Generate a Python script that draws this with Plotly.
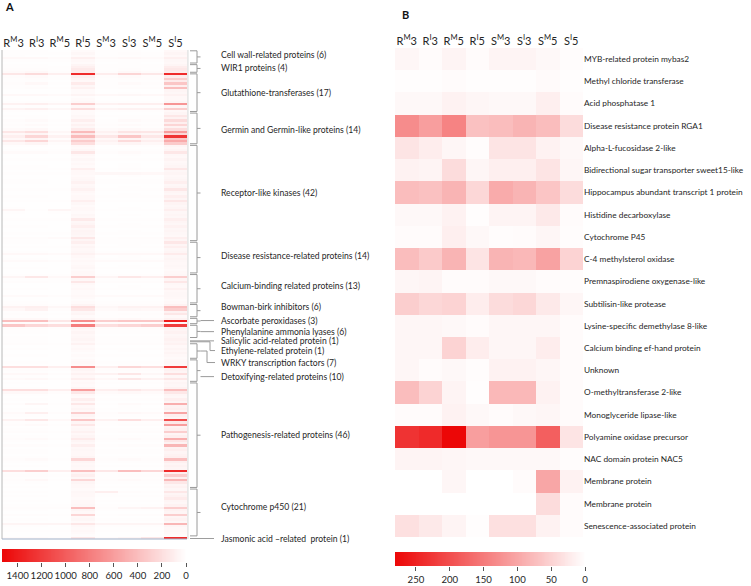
import numpy as np
import plotly.graph_objects as go

W, H = 751, 586

samples = ["R<sup>M</sup>3", "R<sup>I</sup>3", "R<sup>M</sup>5", "R<sup>I</sup>5",
           "S<sup>M</sup>3", "S<sup>I</sup>3", "S<sup>M</sup>5", "S<sup>I</sup>5"]

# ---------------- Panel A data (rows per functional group; columns = samples) ----------------
cell_wall = [[10,10,5,30,10,10,5,40],[15,10,10,50,15,20,10,60],[10,5,5,30,10,10,10,40],
             [40,40,25,90,30,40,30,90],[10,10,10,40,10,15,10,50],[5,5,5,30,5,10,5,40]]
wir1 = [[10,10,5,60,10,10,10,60],[10,10,10,90,10,15,10,110],[20,20,10,130,15,20,15,140],
        [30,40,20,120,20,40,25,120]]
glutathione = [[150,220,100,1300,110,260,150,1300],[20,30,10,100,20,30,20,120],[10,20,10,60,10,20,20,300],
               [10,10,5,40,10,10,10,120],[20,40,10,120,10,30,20,350],[10,10,5,50,10,10,10,100],
               [15,20,10,80,10,20,20,400],[5,5,5,30,5,5,5,60],[5,5,5,30,5,10,5,50],
               [40,40,30,70,40,50,40,80],[5,5,5,20,5,5,5,40],[5,5,5,30,5,5,5,40],
               [10,10,10,40,10,10,10,60],[80,100,60,300,80,100,100,650],[10,10,5,40,10,10,10,60],
               [70,90,50,200,60,80,80,300],[10,10,5,30,10,10,10,40]]
germin = [[5,5,5,30,5,5,5,60],[10,10,5,50,10,10,10,150],[5,10,5,40,5,10,10,80],
          [20,30,10,100,10,30,20,220],[10,10,5,40,10,10,10,100],[20,30,10,80,20,30,20,260],
          [10,10,5,50,10,10,10,80],[30,40,10,120,30,40,30,200],[150,200,50,420,80,160,150,600],
          [40,60,20,150,40,60,50,250],[100,250,80,420,150,350,150,1250],[40,60,20,150,40,60,50,350],
          [150,250,60,320,80,220,100,520],[40,60,20,200,40,60,40,320]]
receptor = [[10,10,5,40,5,10,10,60],[5,5,5,30,5,5,5,40],[10,10,10,50,10,10,10,60],
            [30,30,20,150,20,30,20,150],[5,5,5,40,5,10,5,50],[5,5,5,30,5,5,5,40],
            [10,10,10,50,10,10,10,70],[5,5,5,30,5,5,5,40],[5,5,5,40,5,10,5,50],
            [10,10,5,30,5,10,5,60],[15,15,10,100,10,20,15,150],[5,5,5,40,5,5,5,50],
            [10,10,10,40,50,50,40,60],[5,5,5,30,5,10,5,40],[5,5,5,40,5,5,5,50],
            [10,10,5,50,10,10,10,60],[10,10,5,80,10,10,10,100],[5,5,5,40,5,5,5,50],
            [5,5,5,50,5,10,5,60],[10,10,10,80,10,15,10,150],[5,5,5,40,5,5,5,60],
            [5,5,5,30,5,10,5,50],[10,10,5,40,10,10,10,100],[5,5,5,40,5,5,5,60],
            [15,10,10,100,10,15,10,150],[5,5,5,50,5,5,5,70],[5,5,5,30,5,5,5,50],
            [10,5,5,40,5,10,5,60],[60,10,60,40,10,10,10,100],[10,5,10,30,5,5,5,50],
            [5,5,5,50,5,10,5,60],[5,5,5,40,5,5,5,50],[10,10,10,130,10,10,10,100],
            [5,5,5,50,5,5,5,60],[5,5,5,60,5,10,5,50],[10,10,5,100,10,10,10,80],
            [5,5,5,50,5,5,5,50],[5,5,5,70,5,10,5,60],[10,10,10,60,10,10,10,50],
            [5,5,5,50,5,5,5,40],[20,20,30,150,10,20,20,100],[10,10,5,60,10,10,10,60]]
disease = [[10,10,5,100,10,10,10,150],[5,5,5,40,5,10,5,60],[10,10,10,60,10,10,10,100],
           [5,5,5,40,5,5,5,50],[10,10,5,50,10,10,10,60],[40,40,30,80,40,40,40,120],
           [5,5,5,40,5,10,5,50],[10,10,5,30,10,10,10,60],[30,30,20,40,30,30,30,50],
           [5,5,5,30,5,5,5,40],[5,5,5,40,5,10,5,50],[10,10,5,50,10,10,10,40],
           [5,5,5,30,5,5,5,30],[5,5,5,40,5,5,5,40]]
calcium = [[10,10,10,40,10,10,10,50],[60,150,40,300,60,150,100,300],[10,10,10,50,10,10,10,60],
           [20,20,10,150,20,20,20,150],[5,5,5,40,5,5,5,50],[5,5,5,30,5,10,5,40],
           [10,10,5,40,10,10,10,80],[5,5,5,30,5,5,5,40],[5,5,5,30,5,5,5,50],
           [30,30,20,40,30,30,30,50],[5,5,5,30,5,5,5,40],[5,5,5,20,5,5,5,30],
           [10,10,5,30,10,10,10,40]]
bowman = [[20,20,10,60,20,20,20,80],[80,100,50,200,50,80,80,400],[40,80,20,150,30,50,40,300],
          [10,10,5,50,10,10,10,80],[20,20,10,60,10,20,20,150],[10,10,5,30,10,10,10,40]]
ascorbate = [[40,40,20,60,30,40,30,80],[400,400,150,700,300,350,350,1400],[20,20,10,40,20,20,20,60]]
phenylalanine = [[350,250,200,800,200,250,300,1200],[20,20,10,60,20,20,20,80],[10,10,5,40,10,10,10,60],
                 [10,10,5,60,10,10,10,80],[5,5,5,40,5,5,5,50],[10,10,5,50,10,10,10,60]]
salicylic = [[10,10,5,60,10,10,10,80]]
ethylene = [[10,10,5,40,10,10,10,60]]
wrky = [[20,20,10,80,20,20,20,80],[5,5,5,30,5,5,5,40],[10,10,5,40,10,10,10,60],
        [5,5,5,30,5,10,5,40],[5,5,5,20,5,5,5,60],[10,10,5,30,10,10,10,40],[5,5,5,20,5,5,5,30]]
detox = [[5,5,5,30,5,5,5,40],[10,10,5,40,10,10,10,50],[5,5,5,30,5,10,5,40],
         [200,200,100,700,100,250,200,1200],[20,20,10,60,20,20,20,80],[10,10,5,40,10,10,10,60],
         [40,40,20,80,80,150,50,200],[10,10,5,40,10,10,10,50],[30,40,20,100,40,150,80,150],
         [5,5,5,30,5,5,5,40]]
pathogenesis = [[10,10,5,40,10,10,10,60],[5,5,5,30,5,5,5,50],[10,10,5,60,10,10,10,80],
                [200,200,100,600,100,150,100,400],[40,40,20,150,30,40,30,150],[10,10,5,40,10,10,10,60],
                [5,5,5,30,5,5,5,50],[10,10,5,100,10,10,10,100],[5,5,5,40,5,5,5,60],
                [20,60,10,150,10,30,20,500],[5,5,5,40,5,10,5,80],[10,10,5,60,10,10,10,100],
                [5,5,5,40,5,5,5,60],[30,100,20,300,20,40,30,550],[10,10,5,60,10,10,10,100],
                [5,5,5,40,5,5,5,60],[80,150,40,350,80,200,100,1100],[10,10,5,60,10,10,10,150],
                [20,30,10,150,10,20,20,600],[5,5,5,40,5,5,5,80],[10,10,5,50,10,10,10,100],
                [20,20,10,80,10,20,20,300],[5,5,5,40,5,5,5,60],[10,10,5,60,10,10,10,100],
                [20,30,10,120,20,30,20,500],[10,10,5,60,10,10,10,150],[5,5,5,40,5,5,5,80],
                [20,20,10,100,10,20,20,450],[5,5,5,40,5,5,5,80],[10,10,5,50,10,10,10,100],
                [10,10,5,40,10,10,10,60],[5,5,5,40,5,5,5,80],[10,10,5,60,10,10,10,100],
                [20,30,10,250,20,30,20,400],[10,10,5,60,10,10,10,100],[5,5,5,40,5,5,5,60],
                [10,10,5,50,10,10,10,80],[5,5,5,40,5,5,5,60],[200,300,100,400,150,400,250,1300],
                [10,10,5,60,10,10,10,100],[20,20,10,100,10,20,20,300],[10,10,5,50,10,10,10,100],
                [20,40,10,250,20,30,20,450],[10,10,5,60,10,10,10,150],[5,5,5,40,5,5,5,60],
                [10,10,5,40,10,10,10,80]]
cytochrome = [[5,5,5,30,5,5,5,50],[10,10,5,50,100,20,10,150],[5,5,5,40,10,5,5,60],
              [10,10,5,40,10,10,10,80],[5,5,5,30,5,5,5,120],[10,10,5,40,10,10,10,60],
              [5,5,5,40,5,5,5,50],[10,10,10,50,10,10,10,80],[20,20,20,400,20,60,80,300],
              [10,10,5,60,10,10,10,80],[5,5,5,40,5,5,5,60],[20,20,10,250,10,20,20,300],
              [5,5,5,40,5,5,5,60],[10,10,5,50,10,10,10,80],[5,5,5,30,5,5,5,50],
              [60,60,60,150,60,60,60,450],[10,10,5,40,10,10,10,60],[5,5,5,30,5,5,5,40],
              [10,10,10,40,10,10,10,50],[5,5,5,30,5,5,5,40],[5,5,5,20,5,5,5,30]]
jasmonic = [[30,30,20,150,30,60,150,1300]]

group_names = ["Cell wall-related proteins (6)", "WIR1 proteins (4)", "Glutathione-transferases (17)",
               "Germin and Germin-like proteins (14)", "Receptor-like kinases (42)",
               "Disease resistance-related proteins (14)", "Calcium-binding related proteins (13)",
               "Bowman-birk inhibitors (6)", "Ascorbate peroxidases (3)", "Phenylalanine ammonia lyases (6)",
               "Salicylic acid-related protein (1)", "Ethylene-related protein (1)",
               "WRKY transcription factors (7)", "Detoxifying-related proteins (10)",
               "Pathogenesis-related proteins (46)", "Cytochrome p450 (21)",
               "Jasmonic acid \u2013related  protein (1)"]
group_rows = [cell_wall, wir1, glutathione, germin, receptor, disease, calcium, bowman, ascorbate,
              phenylalanine, salicylic, ethylene, wrky, detox, pathogenesis, cytochrome, jasmonic]

# ---------------- Panel B data ----------------
genes_b = ["MYB-related protein mybas2", "Methyl chloride transferase", "Acid phosphatase 1",
           "Disease resistance protein RGA1", "Alpha-L-fucosidase 2-like",
           "Bidirectional sugar transporter sweet15-like", "Hippocampus abundant transcript 1 protein",
           "Histidine decarboxylase", "Cytochrome P45", "C-4 methylsterol oxidase",
           "Premnaspirodiene oxygenase-like", "Subtilisin-like protease", "Lysine-specific demethylase 8-like",
           "Calcium binding ef-hand protein", "Unknown", "O-methyltransferase 2-like",
           "Monoglyceride lipase-like", "Polyamine oxidase precursor", "NAC domain protein NAC5",
           "Membrane protein", "Membrane protein", "Senescence-associated protein"]
values_b = [[10,5,12,5,12,12,8,3],
            [2,2,5,2,2,2,6,2],
            [8,8,15,10,8,8,18,5],
            [130,110,140,70,75,85,75,40],
            [30,20,10,3,30,30,15,8],
            [15,12,40,10,18,18,30,10],
            [75,70,85,45,95,85,65,40],
            [8,8,15,2,12,12,25,5],
            [5,5,18,8,3,5,10,3],
            [75,60,85,30,85,80,105,50],
            [10,12,5,5,8,8,5,3],
            [55,45,50,20,40,45,25,10],
            [10,10,8,5,10,10,10,5],
            [10,10,50,20,10,10,20,5],
            [10,5,8,3,15,15,10,5],
            [75,50,12,2,80,80,15,5],
            [5,5,15,8,5,8,10,5],
            [230,240,280,110,120,120,180,30],
            [12,12,10,8,8,8,8,3],
            [0,0,10,0,0,5,100,15],
            [0,0,0,0,0,0,40,5],
            [35,25,12,2,35,35,15,5]]

ticks_a = [1400, 1200, 1000, 800, 600, 400, 200, 0]
ticks_b = [250, 200, 150, 100, 50, 0]
zmax_a, zmax_b = 1530, 281

# ---------------- figure ----------------
FONT = "Lato, 'Open Sans', sans-serif"
TXT = "#262626"
scale = [[0, "rgb(255,255,255)"], [1, "rgb(236,6,6)"]]

z_a = [row for grp in group_rows for row in grp]
n_a = len(z_a)
n_b = len(genes_b)

def px(x):
    return x / W

def py(y):
    return 1 - y / H

fig = go.Figure()
fig.add_trace(go.Heatmap(z=z_a, x=list(range(8)), y=list(range(n_a)), colorscale=scale,
                         zmin=0, zmax=zmax_a, showscale=False, xaxis="x", yaxis="y", hoverinfo="z"))
fig.add_trace(go.Heatmap(z=values_b, x=list(range(8)), y=list(range(n_b)), colorscale=scale,
                         zmin=0, zmax=zmax_b, showscale=False, xaxis="x2", yaxis="y2", hoverinfo="z"))
grad_a = np.linspace(0, zmax_a, 200)
grad_b = np.linspace(0, zmax_b, 200)
fig.add_trace(go.Heatmap(z=[grad_a], x=grad_a, y=[0], colorscale=scale, zmin=0, zmax=zmax_a,
                         showscale=False, xaxis="x3", yaxis="y3", hoverinfo="skip"))
fig.add_trace(go.Heatmap(z=[grad_b], x=grad_b, y=[0], colorscale=scale, zmin=0, zmax=zmax_b,
                         showscale=False, xaxis="x4", yaxis="y4", hoverinfo="skip"))

hidden = dict(showgrid=False, zeroline=False, showticklabels=False, ticks="", showline=False)
head_font = dict(family=FONT, size=11, color=TXT)
cb_font = dict(family=FONT, size=9.6, color=TXT)
fig.update_layout(
    width=W, height=H, margin=dict(l=0, r=0, t=0, b=0, autoexpand=False),
    paper_bgcolor="white", plot_bgcolor="white", showlegend=False,
    xaxis=dict(domain=[px(2), px(187)], range=[-0.5, 7.5], side="top", tickmode="array",
               tickvals=list(range(8)), ticktext=samples, showgrid=False, zeroline=False,
               ticks="", tickfont=head_font, tickangle=0, anchor="y"),
    yaxis=dict(domain=[py(539), py(50)], range=[n_a - 0.5, -0.5], anchor="x", **hidden),
    xaxis2=dict(domain=[px(395), px(583)], range=[-0.5, 7.5], side="top", tickmode="array",
                tickvals=list(range(8)), ticktext=samples, showgrid=False, zeroline=False,
                ticks="", tickfont=head_font, tickangle=0, anchor="y2"),
    yaxis2=dict(domain=[py(537), py(48)], range=[n_b - 0.5, -0.5], side="right", tickmode="array",
                tickvals=list(range(n_b)), ticktext=genes_b, showgrid=False, zeroline=False,
                ticks="", ticklabelstandoff=0, tickfont=dict(family=FONT, size=8.3, color=TXT),
                anchor="x2"),
    xaxis3=dict(domain=[px(2), px(186)], range=[zmax_a, 0], tickmode="array", tickvals=ticks_a,
                ticks="outside", ticklen=4, tickcolor="#555", showgrid=False, zeroline=False,
                tickangle=0, tickfont=cb_font, anchor="y3"),
    yaxis3=dict(domain=[py(562), py(549)], range=[-0.5, 0.5], anchor="x3", **hidden),
    xaxis4=dict(domain=[px(395), px(585)], range=[zmax_b, 0], tickmode="array", tickvals=ticks_b,
                ticks="outside", ticklen=4, tickcolor="#555", showgrid=False, zeroline=False,
                tickangle=0, tickfont=cb_font, anchor="y4"),
    yaxis4=dict(domain=[py(566), py(552)], range=[-0.5, 0.5], anchor="x4", **hidden),
)

# panel letters
fig.add_annotation(text="<b>A</b>", x=px(3), y=py(7), xref="paper", yref="paper", xanchor="left",
                   yanchor="middle", showarrow=False, font=dict(family=FONT, size=11, color="#111"))
fig.add_annotation(text="<b>B</b>", x=px(400), y=py(14), xref="paper", yref="paper", xanchor="left",
                   yanchor="middle", showarrow=False, font=dict(family=FONT, size=11, color="#111"))

# panel A frame lines
line_gray = dict(color="#b8b8b8", width=1)
fig.add_shape(type="line", xref="x domain", yref="y domain", x0=0, x1=0, y0=0, y1=1, line=line_gray)
fig.add_shape(type="line", xref="x domain", yref="y domain", x0=1.005, x1=1.005, y0=0, y1=1,
              line=dict(color="#d8d8d8", width=1))
fig.add_shape(type="line", xref="x domain", yref="y domain", x0=0, x1=1, y0=0, y1=0,
              line=dict(color="#9fb0c8", width=1))

# brackets and group labels for panel A
label_rows = [1.7, 7.3, 18.1, 34.2, 61.5, 88.8, 101.8, 110.8, 116.8, 121.6, 125.6, 129.8, 135.0,
              141.1, 166.4, 197.5, 211.3]
leader = ["", "", "", "", "", "", "", "", "h", "h", "s", "e", "e", "h", "", "", "s"]
bx0, bx1, bnub, lab_x = px(190), px(197), px(200.5), px(219)
br = dict(color="#9a9a9a", width=1)
start = 0
for name, grp, lr, ld in zip(group_names, group_rows, label_rows, leader):
    n = len(grp)
    top, bot = start - 0.5 + 0.35, start + n - 0.5 - 0.35
    mid = (top + bot) / 2
    if n > 1:
        fig.add_shape(type="path", xref="paper", yref="y",
                      path=f"M {bx0},{top} L {bx1},{top} L {bx1},{bot} L {bx0},{bot}", line=br)
        fig.add_shape(type="line", xref="paper", yref="y", x0=bx1, x1=bnub, y0=mid, y1=mid, line=br)
    if ld == "h":
        fig.add_shape(type="line", xref="paper", yref="y", x0=bnub, x1=px(214), y0=lr, y1=lr, line=br)
    elif ld == "s":
        fig.add_shape(type="line", xref="paper", yref="y", x0=bx0, x1=px(214), y0=lr, y1=lr, line=br)
    elif ld == "e":
        sx = bx0 if n == 1 else bnub
        ex = px(210) if n == 1 else px(207)
        fig.add_shape(type="path", xref="paper", yref="y",
                      path=f"M {sx},{mid} L {ex},{mid} L {ex},{lr} L {px(215)},{lr}", line=br)
    fig.add_annotation(text=name, x=lab_x, y=lr, xref="paper", yref="y", xanchor="left",
                       yanchor="middle", showarrow=False, font=dict(family=FONT, size=8.6, color=TXT))
    start += n

fig.write_html("out.html", config={"displayModeBar": False},
               post_script="document.body.style.margin='0';document.body.style.overflow='hidden';")
